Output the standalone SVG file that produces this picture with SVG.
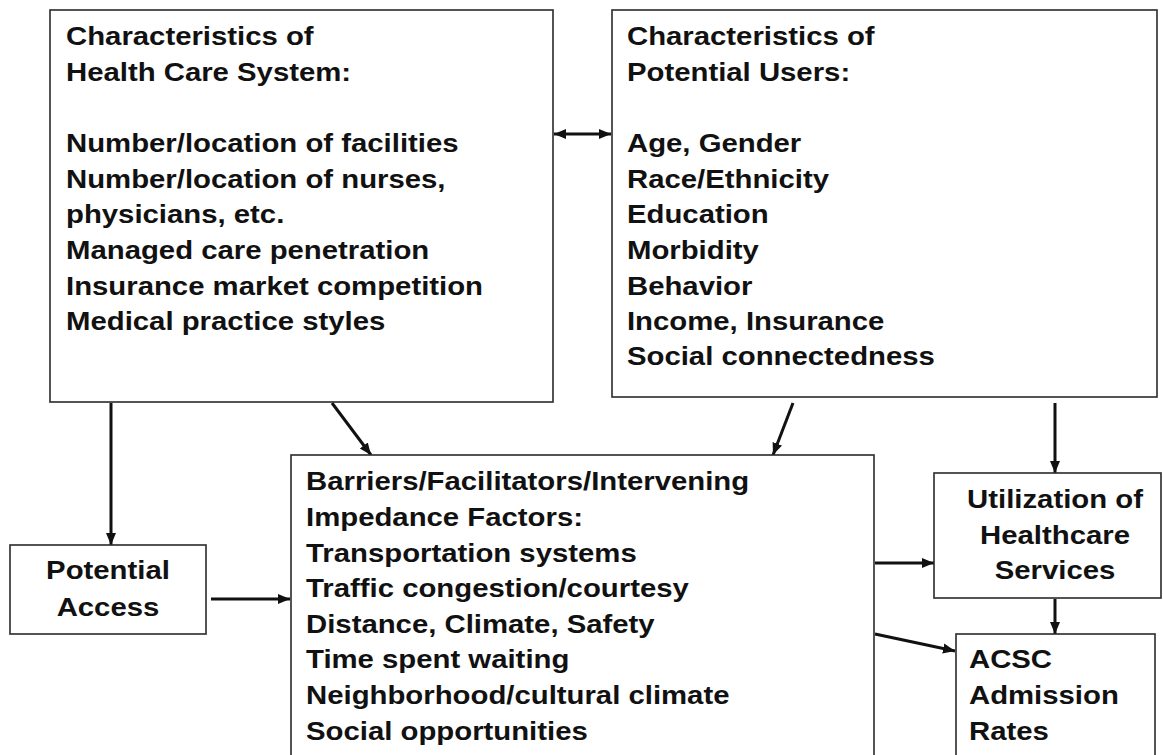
<svg xmlns="http://www.w3.org/2000/svg" width="1163" height="755" viewBox="0 0 1163 755">
<style>
.box{fill:#fff;stroke:#2a2a2a;stroke-width:1.6}
.t{font-family:"Liberation Sans",Arial,sans-serif;font-weight:bold;font-size:25.5px;fill:#111}
.c{text-anchor:middle}
.conn{stroke:#111;stroke-width:3;fill:none;marker-end:url(#ah)}
.dbl{stroke:#111;stroke-width:3;fill:none;marker-end:url(#ah);marker-start:url(#ah)}
</style>
<defs>
<marker id="ah" markerUnits="userSpaceOnUse" markerWidth="14" markerHeight="12" refX="12" refY="6" orient="auto-start-reverse">
<path d="M0,1 L12,6 L0,11 Z" fill="#111"/>
</marker>
</defs>
<rect width="1163" height="755" fill="#fff"/>
<g id="connectors">
<path class="conn" d="M111 403 L111 545"/>
<path class="conn" d="M332 403 L371 455"/>
<path class="conn" d="M793 403 L773 455"/>
<path class="conn" d="M1055 403 L1055 473"/>
<path class="conn" d="M211 599 L290 599"/>
<path class="conn" d="M875 563 L934 563"/>
<path class="conn" d="M1055 599 L1055 634"/>
<path class="conn" d="M875 634 L955 651"/>
<path class="dbl" d="M554 134 L611 134"/>
</g>
<g id="health-care-system">
<rect class="box" x="50" y="10" width="503" height="392"/>
<g transform="scale(1.15,1)" class="t">
<text x="57.4" y="45">Characteristics of</text>
<text x="57.4" y="81">Health Care System:</text>
<text x="57.4" y="152">Number/location of facilities</text>
<text x="57.4" y="188">Number/location of nurses,</text>
<text x="57.4" y="223">physicians, etc.</text>
<text x="57.4" y="259">Managed care penetration</text>
<text x="57.4" y="295">Insurance market competition</text>
<text x="57.4" y="330">Medical practice styles</text>
</g>
</g>
<g id="potential-users">
<rect class="box" x="612" y="10" width="545" height="387"/>
<g transform="scale(1.15,1)" class="t">
<text x="545.2" y="45">Characteristics of</text>
<text x="545.2" y="81">Potential Users:</text>
<text x="545.2" y="152">Age, Gender</text>
<text x="545.2" y="188">Race/Ethnicity</text>
<text x="545.2" y="223">Education</text>
<text x="545.2" y="259">Morbidity</text>
<text x="545.2" y="295">Behavior</text>
<text x="545.2" y="330">Income, Insurance</text>
<text x="545.2" y="365">Social connectedness</text>
</g>
</g>
<g id="potential-access">
<rect class="box" x="10" y="545" width="196" height="89"/>
<g transform="scale(1.15,1)" class="t c">
<text x="93.9" y="579">Potential</text>
<text x="93.9" y="616">Access</text>
</g>
</g>
<g id="barriers">
<rect class="box" x="291" y="455" width="583" height="310"/>
<g transform="scale(1.15,1)" class="t">
<text x="266.1" y="490">Barriers/Facilitators/Intervening</text>
<text x="266.1" y="526">Impedance Factors:</text>
<text x="266.1" y="562">Transportation systems</text>
<text x="266.1" y="597">Traffic congestion/courtesy</text>
<text x="266.1" y="633">Distance, Climate, Safety</text>
<text x="266.1" y="668">Time spent waiting</text>
<text x="266.1" y="704">Neighborhood/cultural climate</text>
<text x="266.1" y="740">Social opportunities</text>
</g>
</g>
<g id="utilization">
<rect class="box" x="934" y="473" width="227" height="125"/>
<g transform="scale(1.15,1)" class="t c">
<text x="917.4" y="508">Utilization of</text>
<text x="917.4" y="544">Healthcare</text>
<text x="917.4" y="579">Services</text>
</g>
</g>
<g id="acsc">
<rect class="box" x="956" y="634" width="199" height="130"/>
<g transform="scale(1.15,1)" class="t">
<text x="842.6" y="668">ACSC</text>
<text x="842.6" y="704">Admission</text>
<text x="842.6" y="740">Rates</text>
</g>
</g>
</svg>
